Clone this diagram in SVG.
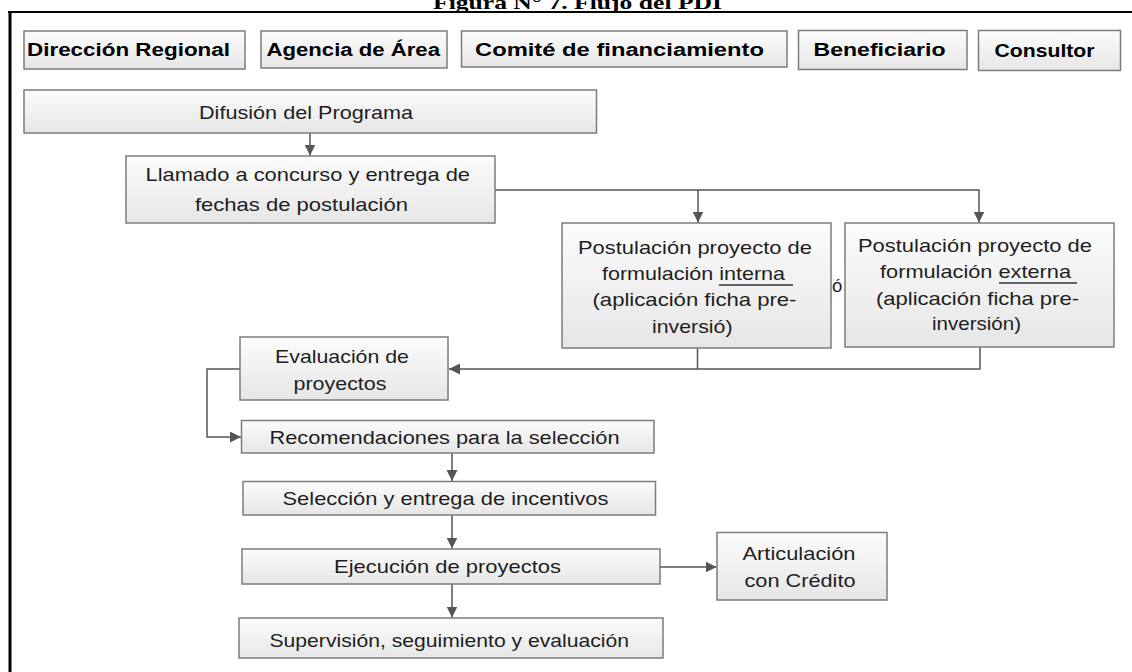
<svg xmlns="http://www.w3.org/2000/svg" width="1132" height="672" viewBox="0 0 1132 672">
<defs>
<linearGradient id="g" x1="0" y1="0" x2="0" y2="1">
<stop offset="0" stop-color="#fcfcfc"/>
<stop offset="1" stop-color="#e6e6e6"/>
</linearGradient>
<marker id="ah" markerUnits="userSpaceOnUse" markerWidth="11" markerHeight="11" refX="10" refY="5" orient="auto" viewBox="0 0 10 10">
<path d="M0,0 L10,5 L0,10 z" fill="#555555"/>
</marker>
</defs>
<style>
.box{fill:url(#g);stroke:#7c7c7c;stroke-width:1.5}
.t{font-family:"Liberation Sans",Arial,sans-serif;font-size:18.5px;fill:#1e1e1e}
.b{font-family:"Liberation Sans",Arial,sans-serif;font-size:18px;font-weight:bold;fill:#000}
.c{fill:none;stroke:#555555;stroke-width:1.5}
.u{stroke:#333333;stroke-width:1.5}
</style>
<rect width="1132" height="672" fill="#ffffff"/>
<g id="frame">
<text x="433" y="8.5" font-family="'Liberation Serif',serif" font-size="18" font-weight="bold" textLength="289" lengthAdjust="spacingAndGlyphs">Figura N° 7. Flujo del PDI</text>
<line x1="8" y1="12" x2="1132" y2="12" stroke="#000" stroke-width="2"/>
<line x1="10" y1="11" x2="10" y2="672" stroke="#000" stroke-width="3"/>
</g>
<g id="connectors">
<path class="c" d="M310,133 V155.5" marker-end="url(#ah)"/>
<path class="c" d="M495,190 H979 V222.5" marker-end="url(#ah)"/>
<path class="c" d="M698,190 V222.5" marker-end="url(#ah)"/>
<path class="c" d="M697.5,348 V369"/>
<path class="c" d="M980,347 V369 H449" marker-end="url(#ah)"/>
<path class="c" d="M240,369 H207 V437 H241" marker-end="url(#ah)"/>
<path class="c" d="M452,453 V481" marker-end="url(#ah)"/>
<path class="c" d="M452,515 V548.5" marker-end="url(#ah)"/>
<path class="c" d="M660,567 H716.5" marker-end="url(#ah)"/>
<path class="c" d="M452,584 V617.5" marker-end="url(#ah)"/>
</g>
<g id="hdr-direccion">
<rect class="box" x="24" y="31" width="221" height="38"/>
<text class="b" x="27" y="56" textLength="203" lengthAdjust="spacingAndGlyphs">Dirección Regional</text>
</g>
<g id="hdr-agencia">
<rect class="box" x="261" y="31" width="186" height="37"/>
<text class="b" x="266.5" y="56" textLength="173.5" lengthAdjust="spacingAndGlyphs">Agencia de Área</text>
</g>
<g id="hdr-comite">
<rect class="box" x="461.5" y="31" width="325.5" height="36"/>
<text class="b" x="475" y="55.5" textLength="289" lengthAdjust="spacingAndGlyphs">Comité de financiamiento</text>
</g>
<g id="hdr-beneficiario">
<rect class="box" x="798.5" y="30.5" width="168.5" height="39"/>
<text class="b" x="813.5" y="56" textLength="132" lengthAdjust="spacingAndGlyphs">Beneficiario</text>
</g>
<g id="hdr-consultor">
<rect class="box" x="978.5" y="30.5" width="142" height="40"/>
<text class="b" x="994.5" y="56.5" textLength="100" lengthAdjust="spacingAndGlyphs">Consultor</text>
</g>
<g id="difusion">
<rect class="box" x="24" y="90" width="572.5" height="43"/>
<text class="t" x="199" y="119" textLength="214" lengthAdjust="spacingAndGlyphs">Difusión del Programa</text>
</g>
<g id="llamado">
<rect class="box" x="126" y="156" width="369" height="67"/>
<text class="t" x="145.5" y="181" textLength="324.5" lengthAdjust="spacingAndGlyphs">Llamado a concurso y entrega de</text>
<text class="t" x="195" y="211" textLength="213" lengthAdjust="spacingAndGlyphs">fechas de postulación</text>
</g>
<g id="interna">
<rect class="box" x="562" y="223" width="269" height="125"/>
<text class="t" x="578" y="254" textLength="234" lengthAdjust="spacingAndGlyphs">Postulación proyecto de</text>
<text class="t" x="602" y="280" textLength="183" lengthAdjust="spacingAndGlyphs">formulación interna</text>
<line class="u" x1="719" y1="285" x2="793" y2="285"/>
<text class="t" x="592.5" y="306" textLength="204" lengthAdjust="spacingAndGlyphs">(aplicación ficha pre-</text>
<text class="t" x="652" y="333" textLength="80.5" lengthAdjust="spacingAndGlyphs">inversió)</text>
</g>
<g id="o-label">
<text class="t" x="832" y="292">ó</text>
</g>
<g id="externa">
<rect class="box" x="845" y="223" width="269" height="124"/>
<text class="t" x="858" y="252" textLength="234" lengthAdjust="spacingAndGlyphs">Postulación proyecto de</text>
<text class="t" x="880" y="278" textLength="191" lengthAdjust="spacingAndGlyphs">formulación externa</text>
<line class="u" x1="999" y1="283" x2="1077" y2="283"/>
<text class="t" x="876" y="305" textLength="203" lengthAdjust="spacingAndGlyphs">(aplicación ficha pre-</text>
<text class="t" x="932" y="330" textLength="89" lengthAdjust="spacingAndGlyphs">inversión)</text>
</g>
<g id="evaluacion">
<rect class="box" x="240" y="337" width="208" height="63"/>
<text class="t" x="275" y="363" textLength="134" lengthAdjust="spacingAndGlyphs">Evaluación de</text>
<text class="t" x="293.5" y="390" textLength="93" lengthAdjust="spacingAndGlyphs">proyectos</text>
</g>
<g id="recomendaciones">
<rect class="box" x="241.5" y="420.5" width="412.5" height="32.5"/>
<text class="t" x="269.5" y="444" textLength="350" lengthAdjust="spacingAndGlyphs">Recomendaciones para la selección</text>
</g>
<g id="seleccion">
<rect class="box" x="243" y="481.5" width="412.5" height="33.5"/>
<text class="t" x="282.5" y="505" textLength="326" lengthAdjust="spacingAndGlyphs">Selección y entrega de incentivos</text>
</g>
<g id="ejecucion">
<rect class="box" x="242" y="549" width="418" height="35"/>
<text class="t" x="334" y="573" textLength="227" lengthAdjust="spacingAndGlyphs">Ejecución de proyectos</text>
</g>
<g id="articulacion">
<rect class="box" x="717" y="532.5" width="170" height="67.5"/>
<text class="t" x="742.5" y="560" textLength="113" lengthAdjust="spacingAndGlyphs">Articulación</text>
<text class="t" x="744.5" y="587" textLength="111" lengthAdjust="spacingAndGlyphs">con Crédito</text>
</g>
<g id="supervision">
<rect class="box" x="239" y="618" width="424" height="40"/>
<text class="t" x="269.5" y="647" textLength="359.5" lengthAdjust="spacingAndGlyphs">Supervisión, seguimiento y evaluación</text>
</g>
</svg>
